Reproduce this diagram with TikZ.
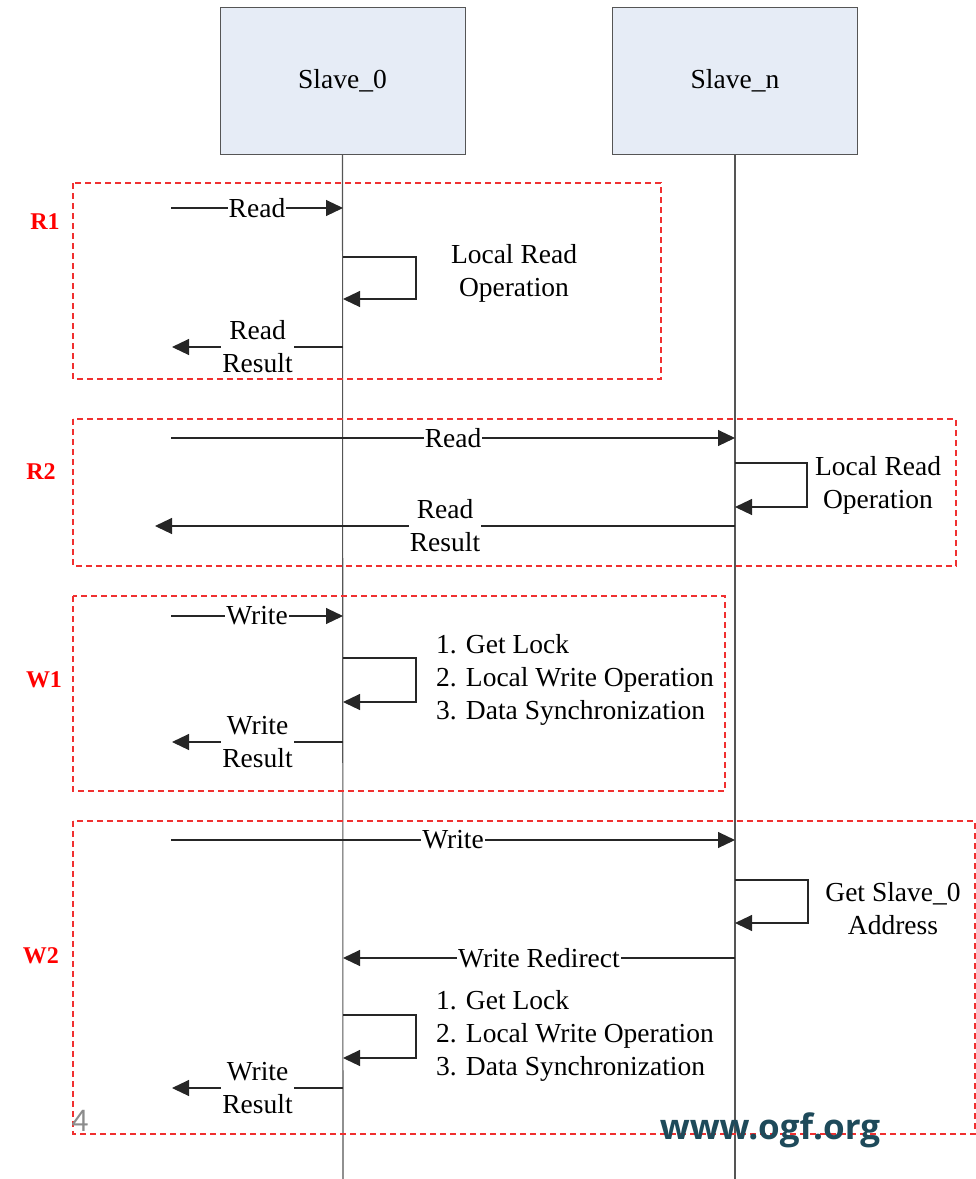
\documentclass[tikz,border=0pt]{standalone}
\usepackage{fontspec}
\setmainfont{Liberation Serif}
\newfontfamily\ogffont{Open Sans}
\newfontfamily\numfont{Carlito}
\usetikzlibrary{arrows.meta}
\definecolor{boxfill}{HTML}{E6ECF6}
\definecolor{lifegray}{HTML}{555555}
\definecolor{grpred}{HTML}{F03030}
\definecolor{ogfteal}{HTML}{1E4A5A}
\begin{document}
\begin{tikzpicture}[x=1pt,y=-1pt,
  every node/.style={font=\fontsize{27.5}{33}\selectfont},
  slavebox/.style={draw=lifegray,line width=1pt,fill=boxfill,minimum width=245pt,minimum height=147pt,inner sep=0pt},
  life/.style={draw=lifegray,line width=1.1pt},
  msg/.style={draw=black!85,line width=1.1pt,-{Triangle[length=17pt,width=16pt]}},
  lbl/.style={fill=white,inner sep=1pt,align=center},
  txt/.style={align=center,inner sep=0pt},
  grp/.style={draw=grpred,line width=1.1pt,dash pattern=on 6pt off 4pt},
  grplbl/.style={text=red,font=\fontsize{24}{28}\selectfont\bfseries}
]
\useasboundingbox (0,0) rectangle (976,1179);

% lifeline heads
\node[slavebox] (s0) at (342.5,80.5) {Slave\_0};
\node[slavebox] (sn) at (735,80.5) {Slave\_n};
\coordinate (s0end) at (343,1179);
\coordinate (snend) at (735,1179);
\draw[life] (s0.south) -- (s0end);
\draw[life] (sn.south) -- (snend);

% group frames
\draw[grp] (73,183) rectangle (661,379);
\draw[grp] (73,419) rectangle (956,566);
\draw[grp] (73,596) rectangle (725,791);
\draw[grp] (73,821) rectangle (975,1134);
\node[grplbl] (r1) at (45,222) {R1};
\node[grplbl] (r2) at (41,472) {R2};
\node[grplbl] (w1) at (44,680) {W1};
\node[grplbl] (w2) at (41,956) {W2};

% ---- R1
\coordinate (r1a) at (171,208); \coordinate (r1b) at (343,208);
\draw[msg] (r1a) -- node[lbl] {Read} (r1b);
\coordinate (r1la) at (343,257); \coordinate (r1lb) at (343,299);
\draw[msg] (r1la) -- ++(73,0) -- ++(0,42) -- (r1lb);
\node[txt] (r1t) at (514,273) {Local Read\\Operation};
\coordinate (r1c) at (343,347); \coordinate (r1d) at (172,347);
\draw[msg] (r1c) -- node[lbl] {Read\\Result} (r1d);

% ---- R2
\coordinate (r2a) at (171,438); \coordinate (r2b) at (735,438);
\draw[msg] (r2a) -- node[lbl] {Read} (r2b);
\coordinate (r2la) at (735,463); \coordinate (r2lb) at (735,507);
\draw[msg] (r2la) -- ++(72,0) -- ++(0,44) -- (r2lb);
\node[txt] (r2t) at (878,485) {Local Read\\Operation};
\coordinate (r2c) at (735,526); \coordinate (r2d) at (155,526);
\draw[msg] (r2c) -- node[lbl] {Read\\Result} (r2d);

% ---- W1
\coordinate (w1a) at (171,616); \coordinate (w1b) at (343,616);
\draw[msg] (w1a) -- node[lbl] {Write} (w1b);
\coordinate (w1la) at (343,658); \coordinate (w1lb) at (343,702);
\draw[msg] (w1la) -- ++(73,0) -- ++(0,44) -- (w1lb);
\node[txt,align=left,anchor=west] (w1t) at (436,680) {1. Get Lock\\2. Local Write Operation\\3. Data Synchronization};
\coordinate (w1c) at (343,742); \coordinate (w1d) at (172,742);
\draw[msg] (w1c) -- node[lbl] {Write\\Result} (w1d);

% ---- W2
\coordinate (w2a) at (171,840); \coordinate (w2b) at (735,840);
\draw[msg] (w2a) -- node[lbl] {Write} (w2b);
\coordinate (w2la) at (735,880); \coordinate (w2lb) at (735,923);
\draw[msg] (w2la) -- ++(73,0) -- ++(0,43) -- (w2lb);
\node[txt] (w2t) at (893,909) {Get Slave\_0\\Address};
\coordinate (w2c) at (735,958); \coordinate (w2d) at (343,958);
\draw[msg] (w2c) -- node[lbl] {Write Redirect} (w2d);
\coordinate (w2ma) at (343,1015); \coordinate (w2mb) at (343,1058);
\draw[msg] (w2ma) -- ++(73,0) -- ++(0,43) -- (w2mb);
\node[txt,align=left,anchor=west] (w2u) at (436,1036) {1. Get Lock\\2. Local Write Operation\\3. Data Synchronization};
\coordinate (w2e) at (343,1088); \coordinate (w2f) at (172,1088);
\draw[msg] (w2e) -- node[lbl] {Write\\Result} (w2f);

% footer
\node[text=gray!90,font=\numfont\fontsize{33}{33}\selectfont,inner sep=0pt] (pg) at (80,1121) {4};
\node[text=ogfteal,font=\ogffont\bfseries\fontsize{35}{35}\selectfont,inner sep=0pt] (ogf) at (770,1130) {www.ogf.org};
\end{tikzpicture}
\end{document}
